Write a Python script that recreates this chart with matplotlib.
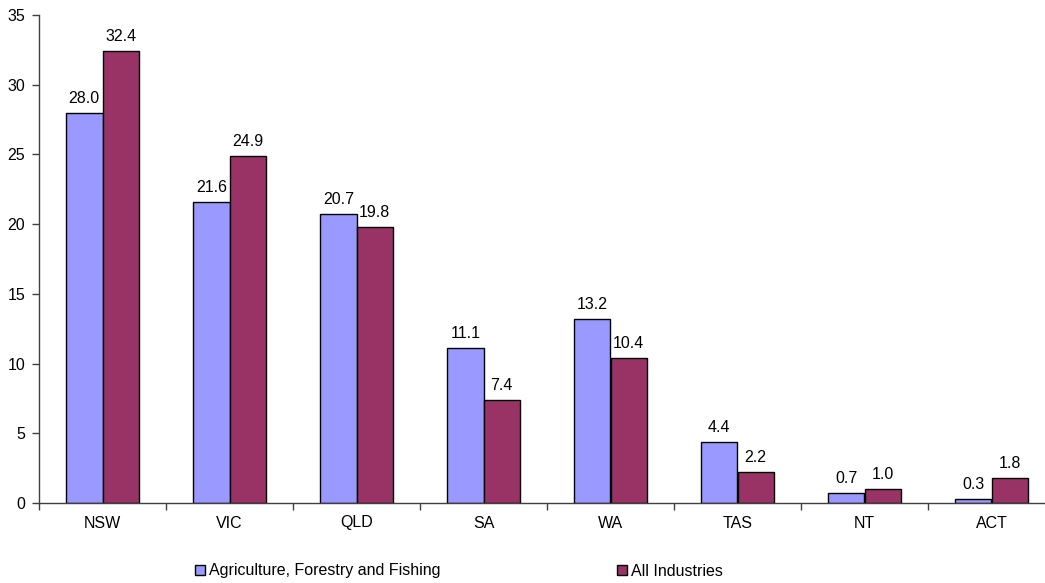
import numpy as np
import matplotlib.pyplot as plt
from matplotlib.patches import Patch

plt.rcParams['font.family'] = ['Liberation Sans', 'DejaVu Sans']

states = ['NSW', 'VIC', 'QLD', 'SA', 'WA', 'TAS', 'NT', 'ACT']
agri = [28.0, 21.6, 20.7, 11.1, 13.2, 4.4, 0.7, 0.3]
all_ind = [32.4, 24.9, 19.8, 7.4, 10.4, 2.2, 1.0, 1.8]

blue = '#9999FF'
plum = '#993366'
fs = 11.5

fig = plt.figure(figsize=(10.45, 5.83), dpi=100)
ax = fig.add_axes([39 / 1045, 1 - 503 / 583, 1016 / 1045, 488 / 583])

x = np.arange(len(states))
w = 0.287
b1 = ax.bar(x - w / 2, agri, w, color=blue, edgecolor='black', linewidth=1)
b2 = ax.bar(x + w / 2, all_ind, w, color=plum, edgecolor='black', linewidth=1)

for bars, vals in ((b1, agri), (b2, all_ind)):
    for bar, v in zip(bars, vals):
        ax.annotate(f'{v:.1f}', (bar.get_x() + bar.get_width() / 2, v),
                    xytext=(0, 5), textcoords='offset points',
                    ha='center', va='bottom', fontsize=fs)

ax.set_xlim(-0.5, len(states) - 0.5)
ax.set_ylim(0, 35)
ax.set_yticks(range(0, 36, 5))
ax.tick_params(axis='y', labelsize=fs, length=5, width=1, color='#404040', pad=5)

# category labels centred, tick marks on the boundaries
ax.set_xticks(x)
ax.set_xticklabels(states, fontsize=fs)
ax.tick_params(axis='x', length=0, pad=9)
ax.set_xticks(np.arange(-0.5, len(states)), minor=True)
ax.tick_params(axis='x', which='minor', length=5, width=1, color='#404040')

for s in ('top', 'right'):
    ax.spines[s].set_visible(False)
for s in ('left', 'bottom'):
    ax.spines[s].set_color('#404040')
    ax.spines[s].set_linewidth(1)

handles = [Patch(facecolor=blue, edgecolor='black', label='Agriculture, Forestry and Fishing'),
           Patch(facecolor=plum, edgecolor='black', label='All Industries')]
fig.legend(handles=handles, loc='center', bbox_to_anchor=(459 / 1045, 1 - 571 / 583),
           ncol=2, frameon=False, fontsize=fs, handlelength=0.65, handleheight=0.65,
           handletextpad=0.25, columnspacing=11.0, borderpad=0)

fig.savefig('out.png', dpi=100)
